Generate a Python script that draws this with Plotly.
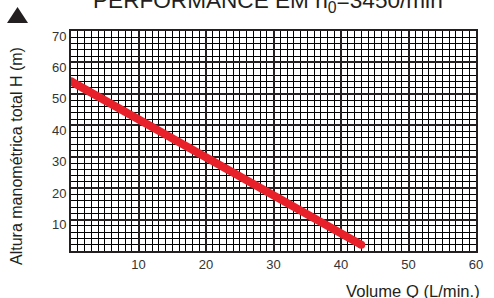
import plotly.graph_objects as go

# Data
flow_q = [0, 10, 20, 30, 40, 43]          # L/min
head_h = [54, 41.9, 29.8, 17.7, 5.6, 2]   # m
x_ticks = [10, 20, 30, 40, 50, 60]
y_ticks = [10, 20, 30, 40, 50, 60, 70]

INK = "#231f20"
RED = "#e8202a"

fig = go.Figure()
fig.add_trace(go.Scatter(
    x=flow_q, y=head_h, mode="lines",
    line=dict(color=RED, width=8),
    showlegend=False, hoverinfo="skip",
))
# round caps at the ends
fig.add_trace(go.Scatter(
    x=[flow_q[0], flow_q[-1]], y=[head_h[0], head_h[-1]], mode="markers",
    marker=dict(color=RED, size=8, line=dict(width=0)),
    showlegend=False, hoverinfo="skip", cliponaxis=True,
))

fig.update_layout(
    width=494, height=298,
    margin=dict(l=71, r=11, t=31, b=47),
    paper_bgcolor="white", plot_bgcolor="white",
    font=dict(family="Liberation Sans, Arial, sans-serif", color=INK, size=13),
    xaxis=dict(
        range=[0, 60], tickvals=x_ticks, ticks="", showgrid=True,
        gridcolor=INK, gridwidth=2, zeroline=False,
        showline=True, linecolor=INK, linewidth=2, mirror=True,
        minor=dict(dtick=1, showgrid=True, gridcolor="#000", gridwidth=1),
        tickfont=dict(size=13, color="#333"), fixedrange=True,
    ),
    yaxis=dict(
        range=[0, 70], tickvals=y_ticks, ticks="", showgrid=True,
        gridcolor=INK, gridwidth=2, zeroline=False,
        showline=True, linecolor=INK, linewidth=2, mirror=True,
        minor=dict(dtick=2, showgrid=True, gridcolor="#000", gridwidth=1),
        tickfont=dict(size=13, color="#333"),
        ticklabelshift=5, fixedrange=True,
    ),
    annotations=[
        dict(text="PERFORMANCE EM n<sub>0</sub>=3450/min", xref="paper", yref="paper",
             x=(271 - 71) / 412, y=1, xanchor="center", yanchor="bottom", yshift=13,
             showarrow=False, font=dict(size=22.6, color=INK)),
        dict(text="Altura manométrica total H (m)", xref="paper", yref="paper",
             x=0, y=0.432, xshift=-54, xanchor="center", yanchor="middle",
             textangle=-90, showarrow=False, font=dict(size=16, color=INK)),
        dict(text="Volume Q (L/min.)", xref="paper", yref="paper",
             x=1, y=0, xshift=6, yshift=-29, xanchor="right", yanchor="top",
             showarrow=False, font=dict(size=16.6, color=INK)),
    ],
    shapes=[
        dict(type="path", xref="paper", yref="paper", xsizemode="pixel", ysizemode="pixel",
             xanchor=0, yanchor=1, path="M -64,8 L -43,8 L -53.5,24 Z",
             fillcolor=INK, line=dict(width=0)),
    ],
)

fig.write_html("out.html", config={"displayModeBar": False},
               post_script="document.body.style.margin='0';document.body.style.overflow='hidden';")
